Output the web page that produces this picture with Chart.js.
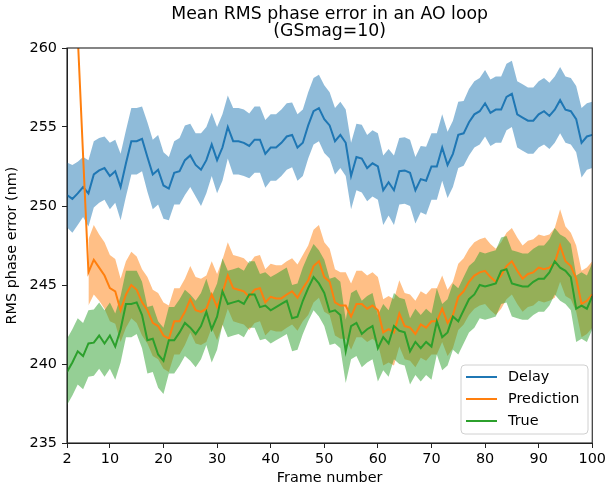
<!DOCTYPE html>
<html>
<head>
<meta charset="utf-8">
<script src="https://cdn.jsdelivr.net/npm/chart.js@4/dist/chart.umd.min.js"></script>
<style>
html,body{margin:0;padding:0;background:#fff;}
#wrap{width:609px;height:487px;position:relative;}
</style>
</head>
<body>
<div id="wrap"><canvas id="c" width="609" height="487"></canvas></div>
<script>
// ---- data (frames 2..100) ----
const firstFrame = 2;
const lastFrame = 100;
const xTickValues = [2, 10, 20, 30, 40, 50, 60, 70, 80, 90, 100];
const yTickValues = [235, 240, 245, 250, 255, 260];
const seriesNames = ['Delay', 'Prediction', 'True'];
const titleLines = ['Mean RMS phase error in an AO loop', '(GSmag=10)'];

const delayMean = [
 250.7,250.45,250.8,251.2,250.8,252.0,252.25,252.4,251.9,252.2,
 251.2,252.7,254.1,254.1,254.25,253.1,252.0,252.3,251.3,251.1,
 252.1,252.2,252.9,253.2,252.6,252.3,252.9,253.9,252.9,253.7,
 255.0,254.1,254.1,254.0,253.8,254.2,254.2,253.3,253.7,253.7,
 254.0,254.4,254.5,253.7,254.0,255.1,256.0,256.2,255.5,255.1,
 254.1,254.5,254.0,251.9,253.1,253.0,252.4,252.7,252.5,251.0,
 251.5,251.0,252.2,252.25,252.1,251.0,251.7,251.6,252.5,252.5,
 253.7,252.6,253.3,254.5,254.6,255.3,255.8,256.0,256.5,255.9,
 256.1,256.1,256.9,257.1,255.8,255.6,255.4,255.4,255.8,256.0,
 255.7,256.1,256.7,256.1,256.0,255.5,254.0,254.4,254.5
];
const delayStd = [
 2.05,2.15,2.0,1.9,2.1,2.1,2.05,2.0,2.1,2.0,
 2.1,2.1,2.1,2.1,2.05,2.2,2.2,2.2,2.1,2.0,
 2.0,2.1,2.2,2.0,2.0,2.3,2.1,2.0,2.1,2.1,
 2.0,2.1,2.1,2.1,2.05,2.1,2.1,2.15,2.1,2.1,
 2.1,2.1,2.05,2.1,2.1,2.1,2.1,2.1,2.15,2.1,
 2.1,2.1,2.1,2.1,2.1,2.15,2.1,2.1,2.1,2.2,
 2.1,2.2,2.1,2.1,2.1,2.1,2.1,2.15,2.1,2.1,
 2.1,2.1,2.1,2.1,2.05,2.1,2.1,2.1,2.1,2.1,
 2.1,2.1,2.1,2.1,2.1,2.1,2.1,2.1,2.1,2.1,
 2.1,2.1,2.1,2.1,2.1,2.1,2.2,2.1,2.1
];

const predMean = [
 275.0,268.0,260.8,253.2,245.8,246.6,246.1,245.6,244.8,244.6,
 243.4,244.4,245.0,244.7,243.9,243.4,242.6,242.4,241.8,241.6,
 242.7,242.7,243.3,244.1,243.4,243.3,243.5,244.4,243.6,244.5,
 245.6,244.8,244.7,244.6,244.25,244.7,244.8,243.9,244.25,244.15,
 244.15,244.4,244.6,244.2,244.8,245.3,246.2,246.5,245.5,245.2,
 243.9,243.7,243.7,243.0,243.8,243.8,243.5,243.7,243.4,242.0,
 242.2,242.0,243.2,242.4,242.3,241.9,242.5,242.3,242.7,242.7,
 243.5,242.6,243.1,244.25,244.6,245.2,245.6,245.8,245.9,245.5,
 245.2,245.6,246.2,246.5,245.9,245.4,245.7,245.8,246.1,246.0,
 246.1,246.4,247.5,246.5,246.2,245.4,243.8,244.0,244.4
];
const predStd = [
 null,null,null,null,2.1,2.2,2.1,2.1,2.1,2.05,
 2.0,2.1,2.1,2.1,2.1,2.1,2.1,2.1,2.1,2.1,
 2.1,2.1,2.1,2.1,2.1,2.1,2.1,2.1,2.1,2.1,
 2.1,2.1,2.1,2.1,2.1,2.1,2.1,2.1,2.1,2.1,
 2.1,2.1,2.1,2.1,2.1,2.2,2.3,2.3,2.2,2.1,
 2.1,2.1,2.1,2.1,2.1,2.1,2.1,2.1,2.1,2.1,
 2.1,2.1,2.1,2.1,2.1,2.1,2.1,2.1,2.1,2.1,
 2.1,2.1,2.1,2.1,2.1,2.1,2.1,2.1,2.1,2.1,
 2.1,2.1,2.1,2.1,2.1,2.1,2.1,2.1,2.1,2.1,
 2.1,2.2,2.3,2.2,2.1,2.1,2.1,2.1,2.1
];

const trueMean = [
 239.5,240.1,240.8,240.5,241.3,241.35,241.8,241.3,241.8,241.1,
 242.2,243.8,243.8,243.9,243.1,241.5,241.6,240.6,240.2,241.5,
 241.5,242.0,242.6,242.3,241.9,242.4,243.3,242.2,243.0,244.6,
 243.8,243.9,244.0,243.8,244.4,244.4,243.6,243.7,243.4,243.6,
 243.8,244.0,242.9,243.0,244.0,244.8,245.5,245.1,244.5,243.3,
 243.4,243.1,240.8,242.4,242.6,241.9,242.2,242.4,241.0,241.7,
 241.3,242.4,242.1,242.0,240.8,241.4,241.0,241.4,241.1,242.7,
 241.7,242.0,243.0,242.7,243.4,244.1,244.4,245.0,244.9,245.0,
 245.1,245.9,246.0,245.1,245.0,244.9,244.9,245.2,245.4,245.4,
 245.8,246.5,246.1,245.9,245.5,243.5,243.7,243.5,244.3
];
const trueStd = [
 2.1,2.1,2.1,2.1,2.1,2.1,2.1,2.1,2.1,2.1,
 2.1,2.1,2.1,2.0,2.1,2.1,2.1,2.1,2.1,2.1,
 2.1,2.1,2.1,2.1,2.1,2.1,2.1,2.1,2.1,2.1,
 2.1,2.1,2.1,2.1,2.1,2.1,2.1,2.1,2.1,2.1,
 2.1,2.1,2.1,2.1,2.1,2.1,2.1,2.1,2.1,2.1,
 2.1,2.1,2.0,2.1,2.1,2.1,2.1,2.1,2.1,2.1,
 2.1,2.1,2.1,2.1,2.1,2.1,2.1,2.1,2.1,2.1,
 2.1,2.1,2.1,2.1,2.1,2.1,2.1,2.1,2.1,2.1,
 2.1,2.1,2.1,2.1,2.1,2.1,2.1,2.1,2.1,2.1,
 2.1,2.1,2.1,2.1,2.1,2.1,2.1,2.1,2.1
];

// ---- build chart ----
const frames = [];
for (let f = firstFrame; f <= lastFrame; f++) frames.push(f);

const colors = ['#1f77b4', '#ff7f0e', '#2ca02c'];
const bandColors = ['rgba(31,119,180,0.5)', 'rgba(255,127,14,0.5)', 'rgba(44,160,44,0.5)'];
const means = [delayMean, predMean, trueMean];
const stds = [delayStd, predStd, trueStd];

function pts(mean, std, sign) {
  return frames.map((f, i) => ({
    x: f,
    y: (std[i] === null || mean[i] === null) ? null : mean[i] + sign * std[i]
  }));
}

const datasets = [];
for (let s = 0; s < 3; s++) {
  datasets.push({
    label: seriesNames[s] + ' low',
    data: pts(means[s], stds[s], -1),
    borderWidth: 0, pointRadius: 0, fill: false,
    borderColor: 'rgba(0,0,0,0)', order: 10 - s * 2 + 1
  });
  datasets.push({
    label: seriesNames[s] + ' high',
    data: pts(means[s], stds[s], 1),
    borderWidth: 0, pointRadius: 0, fill: '-1',
    borderColor: 'rgba(0,0,0,0)', backgroundColor: bandColors[s], order: 10 - s * 2
  });
}
for (let s = 0; s < 3; s++) {
  datasets.push({
    label: seriesNames[s],
    data: frames.map((f, i) => ({x: f, y: means[s][i]})),
    borderColor: colors[s], borderWidth: 2, pointRadius: 0, fill: false,
    tension: 0, order: 3 - s
  });
}

const FONT = 'DejaVu Sans';
const FS = 14.4;

const boxAndLegend = {
  id: 'boxAndLegend',
  afterDraw(chart) {
    const ctx = chart.ctx;
    const a = chart.chartArea;
    ctx.save();
    ctx.strokeStyle = '#222';
    ctx.lineWidth = 1.1;
    ctx.strokeRect(a.left, a.top, a.right - a.left, a.bottom - a.top);
    // title centred over the axes
    ctx.fillStyle = '#000';
    ctx.textAlign = 'center';
    ctx.textBaseline = 'middle';
    ctx.font = '17.3px "' + FONT + '"';
    const cx = (a.left + a.right) / 2;
    ctx.fillText(titleLines[0], cx, 14.5);
    ctx.fillText(titleLines[1], cx, 32);
    // legend
    const lx = 461, ly = 365, lw = 127, lh = 69, r = 4;
    ctx.beginPath();
    ctx.moveTo(lx + r, ly);
    ctx.lineTo(lx + lw - r, ly);
    ctx.quadraticCurveTo(lx + lw, ly, lx + lw, ly + r);
    ctx.lineTo(lx + lw, ly + lh - r);
    ctx.quadraticCurveTo(lx + lw, ly + lh, lx + lw - r, ly + lh);
    ctx.lineTo(lx + r, ly + lh);
    ctx.quadraticCurveTo(lx, ly + lh, lx, ly + lh - r);
    ctx.lineTo(lx, ly + r);
    ctx.quadraticCurveTo(lx, ly, lx + r, ly);
    ctx.closePath();
    ctx.fillStyle = 'rgba(255,255,255,0.8)';
    ctx.fill();
    ctx.strokeStyle = '#d0d0d0';
    ctx.lineWidth = 1;
    ctx.stroke();
    ctx.font = FS + 'px "' + FONT + '"';
    ctx.textBaseline = 'middle';
    ctx.textAlign = 'left';
    for (let s = 0; s < 3; s++) {
      const yy = 377 + s * 22;
      ctx.strokeStyle = colors[s];
      ctx.lineWidth = 2;
      ctx.beginPath();
      ctx.moveTo(466, yy);
      ctx.lineTo(497, yy);
      ctx.stroke();
      ctx.fillStyle = '#000';
      ctx.fillText(seriesNames[s], 508, yy);
    }
    ctx.restore();
  }
};

new Chart(document.getElementById('c'), {
  type: 'line',
  data: { datasets },
  options: {
    responsive: false,
    animation: false,
    devicePixelRatio: 1,
    layout: { padding: { left: 0, right: 14.5, top: 48, bottom: 0 } },
    plugins: {
      legend: { display: false },
      tooltip: { enabled: false },
      title: { display: false }
    },
    scales: {
      x: {
        type: 'linear', min: firstFrame, max: lastFrame,
        afterBuildTicks: (sc) => { sc.ticks = xTickValues.map(v => ({value: v})); },
        afterFit: (sc) => { sc.height = 44; },
        ticks: { font: { family: FONT, size: FS }, color: '#000', padding: 3, maxRotation: 0, autoSkip: false },
        grid: { display: true, drawOnChartArea: false, drawTicks: true, tickLength: 5, color: '#222' },
        border: { display: true, color: '#222', width: 1 },
        title: { display: true, text: 'Frame number', font: { family: FONT, size: FS }, color: '#000', padding: { top: 0, bottom: 0 } }
      },
      y: {
        type: 'linear', min: 235, max: 260,
        afterBuildTicks: (sc) => { sc.ticks = yTickValues.map(v => ({value: v})); },
        afterFit: (sc) => { sc.width = 67; },
        ticks: { font: { family: FONT, size: FS }, color: '#000', padding: 5 },
        grid: { display: true, drawOnChartArea: false, drawTicks: true, tickLength: 5, color: '#222' },
        border: { display: true, color: '#222', width: 1 },
        title: { display: true, text: 'RMS phase error (nm)', font: { family: FONT, size: FS }, color: '#000', padding: { top: 4, bottom: 0 } }
      }
    }
  },
  plugins: [boxAndLegend]
});
</script>
</body>
</html>
